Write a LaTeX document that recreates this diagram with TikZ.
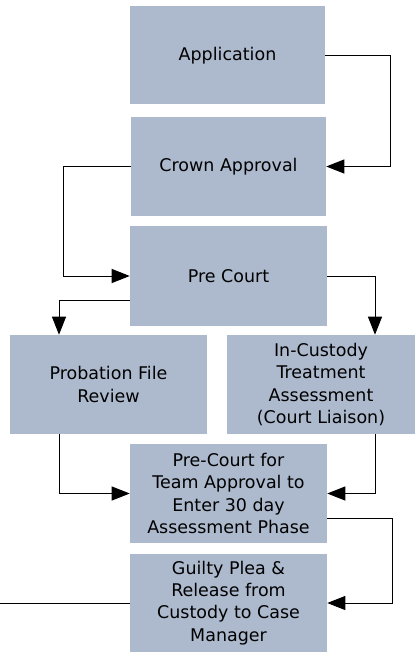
\documentclass[tikz,border=0pt]{standalone}
\usepackage{fontspec}
\setmainfont{DejaVu Sans}
\usetikzlibrary{arrows.meta,calc}
\definecolor{boxblue}{RGB}{173,186,206}
\begin{document}
\begin{tikzpicture}[x=0.75pt,y=-0.75pt]
			\tikzstyle{stage}=[rectangle, fill=boxblue, minimum width=146.25pt, minimum height=73.5pt, inner sep=2pt, align=center, font=\fontsize{13.1}{16.6}\selectfont]
			\tikzstyle{stagew}=[stage, minimum width=146.25pt, minimum height=74.25pt]
			\tikzstyle{link}=[line width=0.75pt, -{Triangle[length=13.5pt,width=10.5pt]}]
			
			\useasboundingbox (0,0) rectangle (415,652);
			
			\draw node at (227.5, 55.5) [stage] (app) {Application};
			\draw node at (228.5, 166.5) [stage] (crown) {Crown Approval};
			\draw node at (228.5, 276) [stage, minimum width=147.75pt, minimum height=75pt] (pre) {Pre Court};
			
			\draw [link]  (app.east) -- ++(65,0) |- (crown.east);
			\draw [link]  (crown.west) -- ++(-67,0) |- (pre.west);
			
			\draw node at (108.5, 384.5) [stagew, minimum width=147.75pt] (prob) {Probation File\\Review};
			\draw node at (321, 384.5) [stagew, minimum width=141pt] (cust) {In-Custody\\Treatment\\Assessment\\(Court Liaison)};
			
			\draw [link]  ($(pre.west)+(0,24)$) -| ($(prob.north)+(-49.5,0)$);
			\draw [link]  (pre.east) -| ($(cust.north)+(54,0)$);
			
			\draw node at (228.5, 493.5) [stage, minimum width=147.75pt, minimum height=74.25pt] (team) {Pre-Court for\\Team Approval to\\Enter 30 day\\Assessment Phase};
			
			\draw [link]  ($(prob.south)+(-49.5,0)$) |- (team.west);
			\draw [link]  ($(cust.south)+(54,0)$) |- (team.east);
			
			\draw node at (228.5, 603) [stage, minimum width=147.75pt, minimum height=73.5pt] (plea) {Guilty Plea \&\\Release from\\Custody to Case\\Manager};
			
			\draw [link]  ($(team.east)+(0,24.5)$) -- ++(65,0) |- (plea.east);
			
			\coordinate (exit) at (0,603);
			\draw [line width=0.75pt]  (plea.west) -- (exit);
		\end{tikzpicture}
\end{document}
